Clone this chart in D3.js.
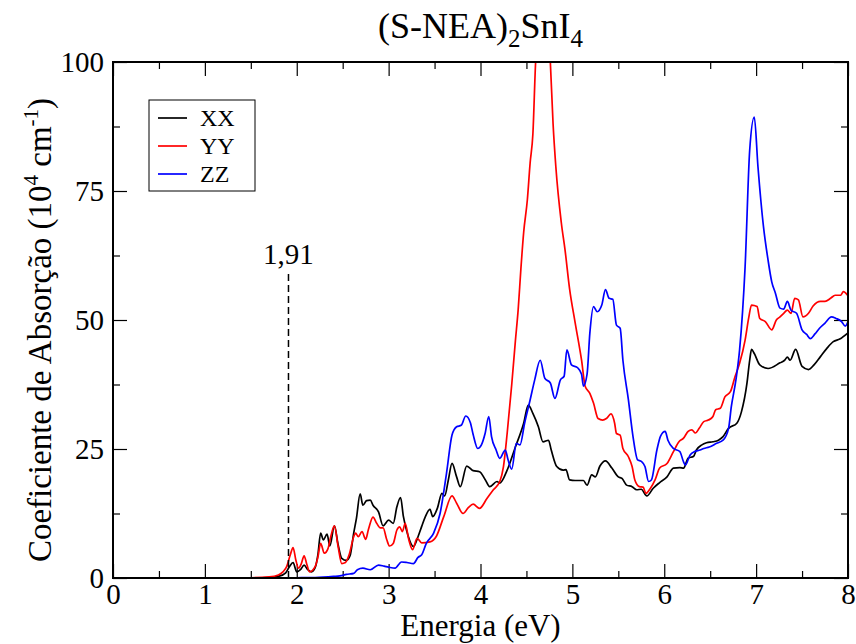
<!DOCTYPE html>
<html>
<head>
<meta charset="utf-8">
<script src="https://cdn.jsdelivr.net/npm/d3@7"></script>
<style>
  body { margin: 0; background: #fff; }
  text { font-family: "Liberation Serif", "Times New Roman", serif; fill: #000; }
</style>
</head>
<body>
<div id="chart"></div>
<script>
// XX
var energyXX = [0, 1.0, 1.5, 1.7, 1.8, 1.88, 1.92, 1.96, 2.0, 2.04, 2.08, 2.12, 2.16, 2.2, 2.23, 2.26, 2.29, 2.33, 2.36, 2.41, 2.45, 2.49, 2.54, 2.58, 2.62, 2.65, 2.69, 2.72, 2.76, 2.80, 2.83, 2.89, 2.94, 3.0, 3.05, 3.09, 3.13, 3.16, 3.21, 3.27, 3.32, 3.36, 3.40, 3.45, 3.48, 3.53, 3.58, 3.61, 3.65, 3.69, 3.74, 3.78, 3.85, 3.92, 3.99, 4.05, 4.10, 4.18, 4.21, 4.29, 4.38, 4.47, 4.52, 4.57, 4.63, 4.68, 4.74, 4.77, 4.83, 4.90, 4.93, 4.97, 5.03, 5.12, 5.16, 5.21, 5.25, 5.30, 5.36, 5.43, 5.50, 5.54, 5.59, 5.65, 5.70, 5.75, 5.81, 5.88, 5.95, 6.03, 6.10, 6.17, 6.21, 6.26, 6.32, 6.35, 6.41, 6.46, 6.53, 6.59, 6.64, 6.70, 6.79, 6.84, 6.90, 6.93, 6.95, 6.98, 7.04, 7.13, 7.26, 7.31, 7.34, 7.37, 7.43, 7.50, 7.57, 7.63, 7.70, 7.77, 7.84, 7.91, 8.0];
var absXX = [0, 0, 0.02, 0.1, 0.3, 1.0, 2.2, 3.0, 1.2, 1.6, 2.5, 1.6, 1.2, 2.0, 4.5, 8.7, 7.4, 8.5, 6.2, 10.1, 6.5, 3.8, 3.4, 4.3, 8.7, 11.6, 16.3, 14.1, 15.0, 15.1, 14.1, 12.8, 10.1, 11.2, 10.6, 13.8, 15.6, 12.0, 8.3, 6.1, 8.0, 10.0, 11.9, 13.3, 11.9, 13.5, 16.4, 15.9, 19.0, 22.2, 19.6, 17.7, 21.7, 20.8, 20.6, 19.1, 17.7, 18.7, 18.4, 20.9, 25.4, 30.0, 33.5, 31.9, 29.3, 26.4, 26.7, 24.8, 21.6, 20.9, 21.0, 19.0, 18.9, 18.9, 18.0, 20.0, 19.6, 21.7, 22.7, 21.3, 19.6, 19.3, 18.0, 17.7, 17.1, 17.2, 15.9, 17.4, 18.5, 19.6, 21.3, 21.4, 21.3, 23.2, 23.6, 24.8, 25.8, 26.2, 26.4, 26.7, 27.4, 29.0, 30.0, 32.2, 37.7, 42.2, 44.3, 43.5, 41.3, 40.6, 41.7, 42.2, 42.8, 42.2, 44.3, 41.0, 40.4, 41.3, 42.9, 44.5, 45.8, 46.3, 47.5];

// YY
var energyYY = [0, 1.0, 1.5, 1.7, 1.8, 1.85, 1.89, 1.93, 1.96, 1.99, 2.02, 2.05, 2.08, 2.11, 2.14, 2.2, 2.23, 2.26, 2.30, 2.34, 2.37, 2.41, 2.45, 2.49, 2.53, 2.57, 2.62, 2.64, 2.67, 2.71, 2.75, 2.78, 2.83, 2.87, 2.91, 2.94, 2.98, 3.01, 3.05, 3.09, 3.12, 3.15, 3.18, 3.22, 3.26, 3.31, 3.36, 3.45, 3.52, 3.60, 3.69, 3.74, 3.81, 3.87, 3.92, 3.99, 4.07, 4.14, 4.21, 4.25, 4.29, 4.34, 4.38, 4.41, 4.44, 4.47, 4.51, 4.54, 4.57, 4.60, 4.64, 4.68, 4.72, 4.76, 4.79, 4.82, 4.88, 4.92, 4.97, 5.03, 5.10, 5.14, 5.19, 5.23, 5.28, 5.33, 5.37, 5.42, 5.46, 5.48, 5.52, 5.55, 5.61, 5.65, 5.68, 5.73, 5.77, 5.80, 5.85, 5.90, 5.95, 6.03, 6.10, 6.16, 6.21, 6.26, 6.30, 6.34, 6.38, 6.43, 6.48, 6.53, 6.56, 6.61, 6.66, 6.72, 6.77, 6.82, 6.88, 6.92, 6.95, 7.01, 7.04, 7.10, 7.17, 7.22, 7.26, 7.30, 7.34, 7.38, 7.42, 7.46, 7.51, 7.57, 7.62, 7.70, 7.75, 7.81, 7.86, 7.92, 7.95, 8.0];
var absYY = [0, 0, 0.05, 0.2, 0.6, 1.2, 2.2, 4.5, 5.9, 3.5, 1.9, 2.8, 4.3, 2.6, 1.2, 2.2, 4.0, 6.7, 4.8, 5.7, 8.0, 10.1, 6.1, 2.8, 3.0, 4.5, 8.0, 8.7, 8.0, 9.0, 7.5, 9.4, 11.8, 10.6, 9.7, 9.7, 7.4, 6.2, 6.7, 9.3, 9.9, 9.0, 10.6, 7.4, 5.5, 7.7, 6.8, 7.0, 8.1, 11.9, 15.9, 14.5, 12.5, 13.7, 14.3, 13.5, 15.4, 17.1, 18.7, 21.6, 28.0, 37.5, 46.0, 52.0, 60.0, 67.0, 73.3, 80.4, 86.0, 100, 108, 112, 110, 100, 88, 79.7, 68.8, 63.6, 56, 49.5, 42.2, 37.1, 35.8, 33.9, 30.9, 30.6, 30.9, 31.8, 30.0, 28.0, 27.7, 25.1, 23.5, 21.6, 19.0, 17.7, 17.6, 16.4, 17.4, 19.0, 21.3, 22.2, 24.5, 26.4, 27.1, 28.4, 28.7, 28.1, 29.0, 30.3, 30.6, 31.3, 32.6, 32.9, 35.1, 36.1, 39.0, 41.6, 46.1, 50.5, 52.9, 52.6, 50.3, 49.7, 48.1, 50.0, 50.6, 51.3, 51.9, 51.3, 54.2, 53.9, 50.6, 51.3, 52.7, 53.6, 53.6, 54.2, 54.8, 54.8, 55.5, 54.7];

// ZZ
var energyZZ = [0, 1.5, 2.0, 2.2, 2.4, 2.47, 2.54, 2.62, 2.66, 2.72, 2.80, 2.89, 2.95, 3.0, 3.07, 3.14, 3.20, 3.27, 3.32, 3.36, 3.41, 3.49, 3.56, 3.63, 3.69, 3.74, 3.79, 3.84, 3.89, 3.92, 3.97, 4.01, 4.05, 4.09, 4.12, 4.17, 4.21, 4.27, 4.30, 4.34, 4.39, 4.43, 4.48, 4.54, 4.59, 4.65, 4.70, 4.76, 4.81, 4.87, 4.91, 4.94, 4.99, 5.06, 5.10, 5.12, 5.16, 5.19, 5.23, 5.27, 5.32, 5.36, 5.40, 5.44, 5.48, 5.52, 5.55, 5.61, 5.66, 5.71, 5.75, 5.79, 5.83, 5.86, 5.92, 5.96, 6.01, 6.04, 6.10, 6.17, 6.21, 6.23, 6.28, 6.33, 6.39, 6.43, 6.49, 6.57, 6.64, 6.70, 6.73, 6.78, 6.82, 6.88, 6.93, 6.98, 7.02, 7.08, 7.13, 7.17, 7.21, 7.26, 7.30, 7.34, 7.38, 7.44, 7.50, 7.55, 7.59, 7.64, 7.69, 7.75, 7.82, 7.87, 7.93, 7.97, 8.0];
var absZZ = [0, 0, 0.05, 0.1, 0.3, 0.4, 0.7, 0.9, 1.6, 1.9, 1.6, 2.5, 2.3, 2.1, 1.9, 3.1, 3.0, 2.8, 4.0, 4.5, 6.7, 8.7, 12.5, 20.3, 27.7, 29.3, 29.6, 31.4, 30.1, 27.8, 25.1, 25.8, 28.0, 31.3, 27.4, 24.8, 23.2, 24.8, 22.9, 21.1, 26.1, 25.8, 30.0, 34.5, 38.4, 42.2, 38.7, 37.8, 34.8, 38.4, 39.1, 44.2, 41.3, 40.7, 39.5, 37.2, 39.5, 47.4, 52.6, 51.6, 52.9, 55.9, 54.2, 54.0, 49.0, 48.4, 42.2, 34.5, 27.4, 22.9, 22.6, 21.6, 18.7, 19.0, 24.8, 27.5, 28.4, 26.7, 25.1, 24.5, 22.5, 21.9, 23.8, 24.5, 24.8, 25.1, 25.4, 26.1, 26.7, 29.0, 33.2, 38.4, 44.2, 60.3, 82.9, 89.3, 79.7, 68.1, 61.6, 57.4, 55.2, 52.3, 52.1, 53.6, 51.9, 51.3, 48.1, 47.2, 46.4, 47.3, 48.4, 49.4, 50.6, 50.3, 49.7, 48.8, 49.7];

var seriesNames = ["XX", "YY", "ZZ"];
var seriesColors = ["#000000", "#ff0000", "#0000ff"];
var xTicks = [0, 1, 2, 3, 4, 5, 6, 7, 8];
var xMinorTicks = [0.5, 1.5, 2.5, 3.5, 4.5, 5.5, 6.5, 7.5];
var yTicks = [0, 25, 50, 75, 100];
var yMinorTicks = [12.5, 37.5, 62.5, 87.5];
var gapEnergy = 1.91;
var gapLabel = "1,91";
var gapTop = 59;

var margin = {top: 62, right: 8, bottom: 66, left: 113};
var width = 856 - margin.left - margin.right;
var height = 644 - margin.top - margin.bottom;

var svg = d3.select("#chart")
            .append("svg")
            .attr("width", width + margin.left + margin.right)
            .attr("height", height + margin.top + margin.bottom);

var g = svg.append("g")
           .attr("transform", "translate(" + margin.left + "," + margin.top + ")");

var x = d3.scaleLinear().domain([0, 8]).range([0, width]);
var y = d3.scaleLinear().domain([0, 100]).range([height, 0]);

g.append("clipPath").attr("id", "clip")
  .append("rect").attr("width", width).attr("height", height);

// ticks pointing inward on all sides
function ticks(axis, vals, size, labels) {
    var a = axis.tickValues(vals).tickSizeInner(-size).tickSizeOuter(0);
    if (!labels) a.tickFormat("");
    return a;
}

var axisB = g.append("g").attr("transform", "translate(0," + height + ")");
axisB.call(ticks(d3.axisBottom(x), xTicks, 14, true).tickPadding(5));
axisB.append("g").call(ticks(d3.axisBottom(x), xMinorTicks, 7, false));
axisB.selectAll("text").style("font-size", "29px");

var axisT = g.append("g");
axisT.call(ticks(d3.axisTop(x), xTicks, 14, false));
axisT.append("g").call(ticks(d3.axisTop(x), xMinorTicks, 7, false));

var axisL = g.append("g");
axisL.call(ticks(d3.axisLeft(y), yTicks, 14, true).tickPadding(9));
axisL.append("g").call(ticks(d3.axisLeft(y), yMinorTicks, 7, false));
axisL.selectAll("text").style("font-size", "29px");

var axisR = g.append("g").attr("transform", "translate(" + width + ",0)");
axisR.call(ticks(d3.axisRight(y), yTicks, 14, false));
axisR.append("g").call(ticks(d3.axisRight(y), yMinorTicks, 7, false));

g.selectAll(".domain").remove();
g.selectAll(".tick line").attr("stroke", "#000").attr("stroke-width", 1.2);
g.selectAll(".tick text").style("font-family", "'Liberation Serif', serif");

// curves
var line = d3.line()
             .x(d => x(d[0]))
             .y(d => y(d[1]))
             .curve(d3.curveMonotoneX);

var allSeries = [
    d3.zip(energyXX, absXX),
    d3.zip(energyYY, absYY),
    d3.zip(energyZZ, absZZ)
];

g.append("g").attr("clip-path", "url(#clip)")
  .selectAll("path")
  .data(allSeries)
  .join("path")
  .attr("d", line)
  .attr("fill", "none")
  .attr("stroke", (d, i) => seriesColors[i])
  .attr("stroke-width", 1.7);

// gap marker
g.append("line")
  .attr("x1", x(gapEnergy)).attr("x2", x(gapEnergy))
  .attr("y1", y(0)).attr("y2", y(gapTop))
  .attr("stroke", "#000").attr("stroke-width", 1.5)
  .attr("stroke-dasharray", "7,4");
g.append("text")
  .attr("x", x(gapEnergy)).attr("y", y(gapTop) - 10)
  .attr("text-anchor", "middle")
  .style("font-size", "29px")
  .text(gapLabel);

// frame
g.append("rect")
  .attr("width", width).attr("height", height)
  .attr("fill", "none").attr("stroke", "#000").attr("stroke-width", 2);

// legend
var legend = svg.append("g").attr("transform", "translate(149,100)");
legend.append("rect")
  .attr("width", 106).attr("height", 91)
  .attr("fill", "#fff").attr("stroke", "#000").attr("stroke-width", 1);
seriesNames.forEach(function(name, i) {
    var ly = 18 + i * 28;
    legend.append("line")
      .attr("x1", 9).attr("x2", 38).attr("y1", ly).attr("y2", ly)
      .attr("stroke", seriesColors[i]).attr("stroke-width", 1.7);
    legend.append("text")
      .attr("x", 51).attr("y", ly).attr("dy", "0.35em")
      .style("font-size", "24px")
      .text(name);
});

// title
var title = svg.append("text")
  .attr("x", margin.left + width / 2).attr("y", 38)
  .attr("text-anchor", "middle")
  .style("font-size", "36px");
title.append("tspan").text("(S-NEA)");
title.append("tspan").attr("dy", 9).style("font-size", "25px").text("2");
title.append("tspan").attr("dy", -9).text("SnI");
title.append("tspan").attr("dy", 9).style("font-size", "25px").text("4");

// axis labels
svg.append("text")
  .attr("x", margin.left + width / 2).attr("y", 636)
  .attr("text-anchor", "middle")
  .style("font-size", "31px")
  .text("Energia (eV)");

var yl = svg.append("text")
  .attr("transform", "translate(51," + (margin.top + height / 2 + 10) + ") rotate(-90)")
  .attr("text-anchor", "middle")
  .style("font-size", "33px");
yl.append("tspan").text("Coeficiente de Absorção (10");
yl.append("tspan").attr("dy", -13).style("font-size", "21px").text("4");
yl.append("tspan").attr("dy", 13).text(" cm");
yl.append("tspan").attr("dy", -13).style("font-size", "21px").text("-1");
yl.append("tspan").attr("dy", 13).text(")");
</script>
</body>
</html>
